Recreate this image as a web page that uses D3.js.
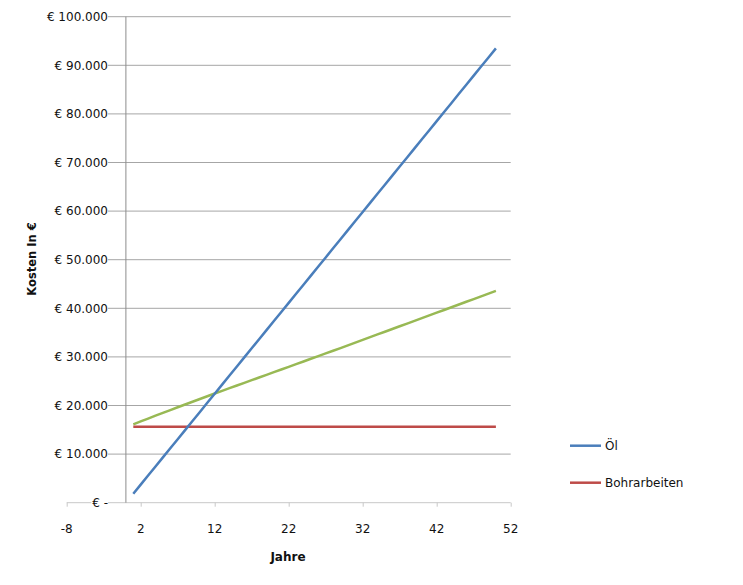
<!DOCTYPE html>
<html>
<head>
<meta charset="utf-8">
<script src="https://cdn.jsdelivr.net/npm/d3@7"></script>
<style>
  html, body { margin: 0; padding: 0; background: #fff; }
  svg { display: block; }
  text { font-family: "DejaVu Sans", sans-serif; }
</style>
</head>
<body>
<svg id="chart" width="743" height="585"></svg>
<script>
// ---- data ----
const years = [1,2,3,4,5,6,7,8,9,10,11,12,13,14,15,16,17,18,19,20,21,22,23,24,25,
               26,27,28,29,30,31,32,33,34,35,36,37,38,39,40,41,42,43,44,45,46,47,48,49,50];
const oel = [1850,3720,5590,7460,9330,11200,13070,14940,16810,18680,
             20550,22420,24290,26160,28030,29900,31770,33640,35510,37380,
             39250,41120,42990,44860,46730,48600,50470,52340,54210,56080,
             57950,59820,61690,63560,65430,67300,69170,71040,72910,74780,
             76650,78520,80390,82260,84130,86000,87870,89740,91610,93480];
const bohrarbeiten = [15650,15650,15650,15650,15650,15650,15650,15650,15650,15650,
                      15650,15650,15650,15650,15650,15650,15650,15650,15650,15650,
                      15650,15650,15650,15650,15650,15650,15650,15650,15650,15650,
                      15650,15650,15650,15650,15650,15650,15650,15650,15650,15650,
                      15650,15650,15650,15650,15650,15650,15650,15650,15650,15650];
const waerme = [16130,16720,17310,17900,18480,19060,19640,20210,20780,21340,
                21900,22460,23010,23560,24110,24660,25210,25760,26310,26860,
                27410,27960,28510,29060,29610,30160,30710,31260,31820,32380,
                32940,33500,34060,34620,35180,35740,36300,36860,37420,37980,
                38540,39100,39660,40220,40780,41340,41900,42460,43030,43600];
const xTicks = [-8, 2, 12, 22, 32, 42, 52];
const yTicks = [0, 10000, 20000, 30000, 40000, 50000, 60000, 70000, 80000, 90000, 100000];
const yTickLabels = ["€ -", "€ 10.000", "€ 20.000", "€ 30.000", "€ 40.000", "€ 50.000",
                     "€ 60.000", "€ 70.000", "€ 80.000", "€ 90.000", "€ 100.000"];
const seriesNames = ["Öl", "Bohrarbeiten"];
const colors = { oel: "#4a7ebb", bohr: "#be4b48", waerme: "#98b954" };

// ---- layout ----
const svg = d3.select("#chart");
const x = d3.scaleLinear().domain([-8, 52]).range([66.7, 510.7]);
const y = d3.scaleLinear().domain([0, 100000]).range([502.7, 16.7]);

// gridlines
svg.append("g").selectAll("line").data(yTicks.filter(d => d > 0)).join("line")
  .attr("x1", x(-8)).attr("x2", x(52))
  .attr("y1", d => y(d)).attr("y2", d => y(d))
  .attr("stroke", "#a6a6a6").attr("stroke-width", 1);

// x axis line + ticks
const xAxis = d3.axisBottom(x).tickValues(xTicks).tickSize(4).tickFormat("");
const gx = svg.append("g").attr("transform", `translate(0,${y(0)})`).call(xAxis);
gx.select(".domain").attr("stroke", "#c8c8c8").attr("d", `M${x(-8)},0H${x(52)}`);
gx.selectAll(".tick line").attr("stroke", "#c8c8c8");
svg.append("g").selectAll("text").data(xTicks).join("text")
  .attr("x", d => x(d)).attr("y", 533)
  .attr("text-anchor", "middle").attr("font-size", 12).attr("fill", "#111")
  .text(d => d);

// vertical axis at x = 0
svg.append("line")
  .attr("x1", x(0)).attr("x2", x(0)).attr("y1", y(100000)).attr("y2", y(0))
  .attr("stroke", "#8c8c8c").attr("stroke-width", 1);

// y tick labels with white background
const yl = svg.append("g").selectAll("g").data(yTicks).join("g");
yl.append("rect").attr("fill", "#fff");
yl.append("text")
  .attr("x", 108).attr("y", d => y(d)).attr("dy", "0.36em")
  .attr("text-anchor", "end").attr("font-size", 12).attr("fill", "#111")
  .text((d, i) => yTickLabels[i]);
yl.each(function() {
  const t = d3.select(this).select("text").node().getBBox();
  d3.select(this).select("rect")
    .attr("x", t.x - 1).attr("y", t.y + 2).attr("width", t.width + 1).attr("height", t.height - 4);
});

// lines
const line = vals => d3.line().x((d, i) => x(years[i])).y(d => y(d))(vals);
svg.append("path").attr("d", line(waerme)).attr("fill", "none")
  .attr("stroke", colors.waerme).attr("stroke-width", 2.5);
svg.append("path").attr("d", line(bohrarbeiten)).attr("fill", "none")
  .attr("stroke", colors.bohr).attr("stroke-width", 2.5);
svg.append("path").attr("d", line(oel)).attr("fill", "none")
  .attr("stroke", colors.oel).attr("stroke-width", 2.5);

// axis titles
svg.append("text").attr("x", 288).attr("y", 561).attr("text-anchor", "middle")
  .attr("font-size", 12).attr("font-weight", "bold").attr("fill", "#111").text("Jahre");
svg.append("text").attr("transform", "translate(36,259) rotate(-90)")
  .attr("text-anchor", "middle").attr("font-size", 11.5).attr("font-weight", "bold")
  .attr("fill", "#111").text("Kosten In €");

// legend
const legend = svg.append("g").selectAll("g").data(seriesNames).join("g")
  .attr("transform", (d, i) => `translate(570,${445.7 + i * 37})`);
legend.append("line").attr("x1", 0).attr("x2", 31).attr("y1", 0).attr("y2", 0)
  .attr("stroke", (d, i) => i === 0 ? colors.oel : colors.bohr).attr("stroke-width", 2.5);
legend.append("text").attr("x", 35).attr("y", 0).attr("dy", "0.36em")
  .attr("font-size", 12).attr("fill", "#111").text(d => d);
</script>
</body>
</html>
